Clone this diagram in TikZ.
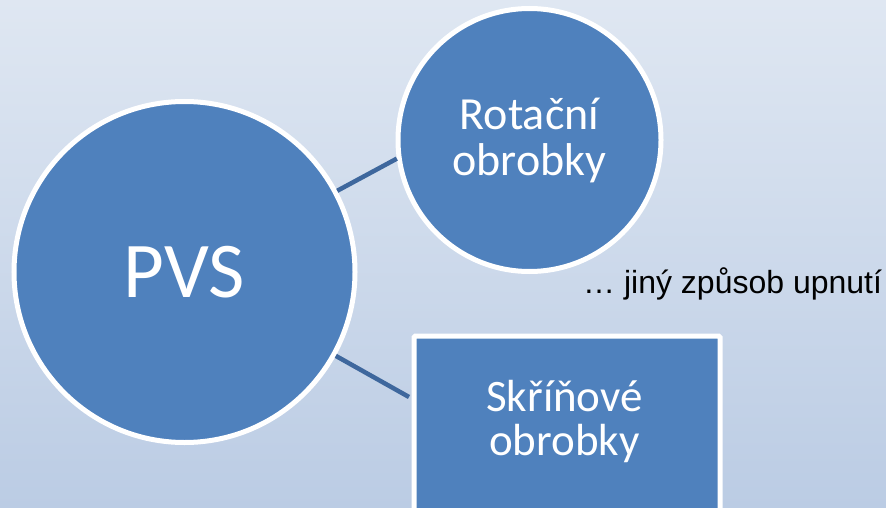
\documentclass[tikz,border=0pt]{standalone}
\usepackage{fontspec}
\setmainfont{Carlito}
\newfontfamily\arialf{Liberation Sans}
\usetikzlibrary{calc}
\definecolor{bgtop}{HTML}{DFE7F2}
\definecolor{bgbot}{HTML}{BBCCE4}
\definecolor{nodefill}{HTML}{4F81BD}
\definecolor{linkcol}{HTML}{3E679D}
\tikzset{
  blob/.style={circle, fill=nodefill, draw=white, line width=5pt, inner sep=0pt, text=white, align=center},
  boxnode/.style={rectangle, fill=nodefill, draw=white, line width=5pt, inner sep=0pt, rounded corners=1.5pt},
  boxtext/.style={text=white, align=center, inner sep=0pt},
  link/.style={draw=linkcol, line width=4.5pt}
}
\begin{document}
\begin{tikzpicture}[x=1pt,y=-1pt]
\useasboundingbox (0,0) rectangle (886,508);
\clip (0,0) rectangle (886,508);
\shade[top color=bgtop, bottom color=bgbot] (0,0) rectangle (886,508);
\node[blob, minimum size=341pt, font=\fontsize{79}{79}\selectfont] (pvs) at (184.5,272) {PVS};
\node[blob, minimum size=263pt, font=\fontsize{46}{46}\selectfont] (rot) at (529.5,140) {Rotační\\obrobky};
\node[boxnode, anchor=north west, minimum width=306pt, minimum height=240pt] (box) at (411.5,333.5) {};
\node[boxtext, font=\fontsize{45}{44}\selectfont] (boxlbl) at (564.5,421) {Skříňové\\obrobky};
\coordinate (boxin) at ($(box.north west)+(-2.5,63.5)$);
\draw[link] (pvs.28) -- (rot.188);
\draw[link] (pvs.-29) -- (boxin);
\node[anchor=base west, inner sep=0pt, text=black, font=\arialf\fontsize{32}{32}\selectfont] (note) at (583,293) {… jiný způsob upnutí};
\end{tikzpicture}
\end{document}
